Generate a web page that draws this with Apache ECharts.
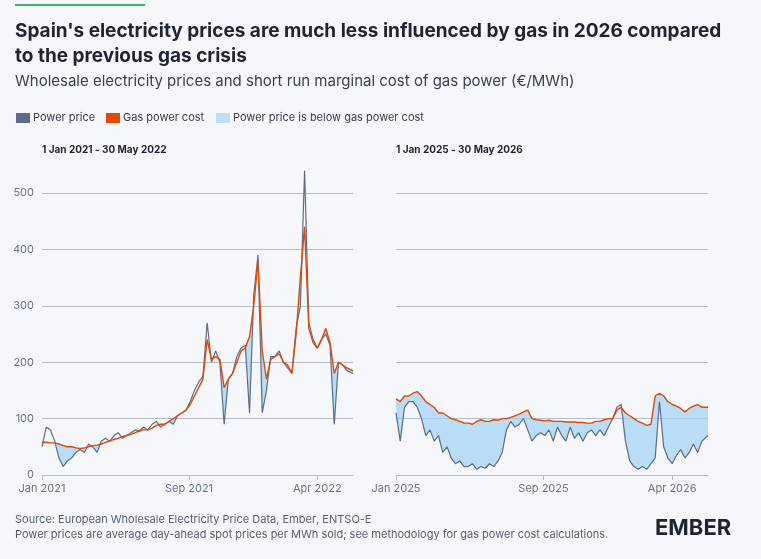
<!DOCTYPE html>
<html><head><meta charset="utf-8">
<script src="https://cdn.jsdelivr.net/npm/echarts@6/dist/echarts.min.js"></script>
<style>html,body{margin:0;background:#fff}#c{width:761px;height:559px}</style>
</head><body><div id="c"></div>
<script>
// Weekly values, starting dates below
const leftStart = '2021-01-01';
const leftGas = [58,58,57,57,55,52,50,50,48,47,48,50,52,53,55,58,60,63,65,68,70,72,75,78,80,80,83,88,90,90,95,100,105,110,115,125,140,155,170,240,205,210,205,155,170,180,200,220,225,245,300,380,220,170,205,210,215,200,195,180,250,350,440,260,235,225,240,260,235,180,200,195,190,185];
const leftPower = [50,85,80,60,30,15,25,30,40,45,40,55,50,40,60,65,60,70,75,65,70,75,80,78,85,80,90,95,85,90,95,90,105,110,115,130,150,165,175,270,200,220,200,90,170,180,210,225,230,110,320,390,110,150,210,210,220,200,190,180,260,300,540,270,240,225,240,250,230,90,200,195,185,180];
const rightStart = '2025-01-01';
const rightGas = [135,130,140,140,145,148,140,130,125,120,110,110,105,100,98,95,92,92,90,95,98,95,95,98,97,100,100,102,105,108,112,115,100,98,97,96,97,95,95,95,94,94,94,93,93,92,92,95,95,98,100,100,115,120,110,105,100,95,92,88,90,140,145,140,130,125,122,118,112,118,122,125,120,120];
const rightPower = [110,60,120,130,130,120,100,70,80,60,70,40,50,30,20,25,15,15,20,10,15,12,20,15,25,40,80,95,85,90,100,80,60,70,75,70,80,60,85,70,60,85,65,75,60,75,80,70,80,70,85,100,120,125,60,25,15,10,15,10,20,30,130,50,30,20,35,45,30,40,55,40,60,70];
const yTicks = [0,100,200,300,400,500];

const T=(s)=>new Date(s+'T00:00:00Z').getTime();
function dates(start, n, end){
  const s = T(start), e = T(end);
  const out=[]; for(let i=0;i<n;i++){ out.push(i===n-1? e : s + i*7*86400000); } return out;
}
const ld = dates(leftStart, leftPower.length, '2022-05-30');
const rd = dates(rightStart, rightPower.length, '2026-05-30');
const pair=(d,v)=>d.map((t,i)=>[t,v[i]]);

function panel(idx, d, gas, pow){
  return [
    {type:'custom',xAxisIndex:idx,yAxisIndex:idx,data:[[d[0],0]],silent:true,z:1,
     renderItem:(params,api)=>{
       const top=d.map((t,i)=>api.coord([t,gas[i]]));
       const bot=d.map((t,i)=>api.coord([t,Math.min(pow[i],gas[i])])).reverse();
       return {type:'polygon',shape:{points:top.concat(bot)},style:{fill:'rgba(160,210,245,0.7)'}};
     }},
    {type:'line',name:'Power price',xAxisIndex:idx,yAxisIndex:idx,data:pair(d,pow),symbol:'none',clip:false,z:3,lineStyle:{color:'#5f6b8a',width:1.2}},
    {type:'line',name:'Gas power cost',xAxisIndex:idx,yAxisIndex:idx,data:pair(d,gas),symbol:'none',clip:false,z:4,lineStyle:{color:'#e04a00',width:1.4}}
  ];
}
const fmt=(v)=>{const dt=new Date(v);const m=['Jan','Feb','Mar','Apr','May','Jun','Jul','Aug','Sep','Oct','Nov','Dec'][dt.getUTCMonth()];return m+' '+dt.getUTCFullYear();};
function xa(idx,min,max,ticks){
  const tv=ticks.map(T);
  return {type:'value',gridIndex:idx,min:T(min),max:T(max),
    axisLine:{lineStyle:{color:'#b8bfcc'}},axisTick:{show:true,customValues:tv,lineStyle:{color:'#b8bfcc'}},
    axisLabel:{customValues:tv,formatter:fmt,color:'#6b7489',fontSize:11,fontFamily:'Inter'},splitLine:{show:false}};
}
function ya(idx,showLabel){
  return {type:'value',gridIndex:idx,min:0,max:500,interval:100,axisLabel:{show:showLabel,color:'#6b7489',fontSize:11,fontFamily:'Inter'},
    splitLine:{lineStyle:{color:'#b8bfcc'}},axisLine:{show:false},axisTick:{show:false}};
}
const chart = echarts.init(document.getElementById('c'));
chart.setOption({
  backgroundColor:'#f5f7fb',animation:false,
  graphic:[
    {type:'rect',shape:{x:15,y:4,width:130,height:2},style:{fill:'#3cb371'}},
    {type:'text',left:15,top:19,style:{text:"Spain's electricity prices are much less influenced by gas in 2026 compared\nto the previous gas crisis",font:'bold 19px Inter',fill:'#1f2430',lineHeight:25}},
    {type:'text',left:15,top:74,style:{text:'Wholesale electricity prices and short run marginal cost of gas power (€/MWh)',font:'15px Inter',fill:'#3a4150'}},
    {type:'text',left:42,top:145,style:{text:'1 Jan 2021 - 30 May 2022',font:'bold 10px Inter',fill:'#1f2430'}},
    {type:'text',left:396,top:145,style:{text:'1 Jan 2025 - 30 May 2026',font:'bold 10px Inter',fill:'#1f2430'}},
    {type:'rect',shape:{x:16,y:113,width:14,height:10},style:{fill:'#5f6b8a'}},
    {type:'text',left:33,top:112,style:{text:'Power price',font:'11px Inter',fill:'#3a4150'}},
    {type:'rect',shape:{x:106,y:113,width:14,height:10},style:{fill:'#e04a00'}},
    {type:'text',left:123,top:112,style:{text:'Gas power cost',font:'11px Inter',fill:'#3a4150'}},
    {type:'rect',shape:{x:216,y:113,width:14,height:10},style:{fill:'#bfdff5'}},
    {type:'text',left:233,top:112,style:{text:'Power price is below gas power cost',font:'11px Inter',fill:'#3a4150'}},
    {type:'text',left:15,top:514,style:{rich:{a:{font:'11px Inter',fill:'#5a6273'},u:{font:'11px Inter',fill:'#5a6273',textDecoration:'underline'}},text:'{a|Source: }{u|European Wholesale Electricity Price Data, Ember}{a|, }{u|ENTSO-E}'}},
    {type:'text',left:15,top:529,style:{text:'Power prices are average day-ahead spot prices per MWh sold; see methodology for gas power cost calculations.',font:'11px Inter',fill:'#5a6273'}},
    {type:'text',left:655,top:517,style:{text:'EMBER',font:'bold 22px Inter',fill:'#1f2430'}}
  ],
  grid:[{left:42,top:193,width:311,height:282},{left:396,top:193,width:312,height:282}],
  xAxis:[xa(0,'2021-01-01','2022-05-30',['2021-01-01','2021-09-01','2022-04-01']),xa(1,'2025-01-01','2026-05-30',['2025-01-01','2025-09-01','2026-04-01'])],
  yAxis:[ya(0,true),ya(1,false)],
  series:[...panel(0,ld,leftGas,leftPower),...panel(1,rd,rightGas,rightPower)]
});
</script></body></html>
